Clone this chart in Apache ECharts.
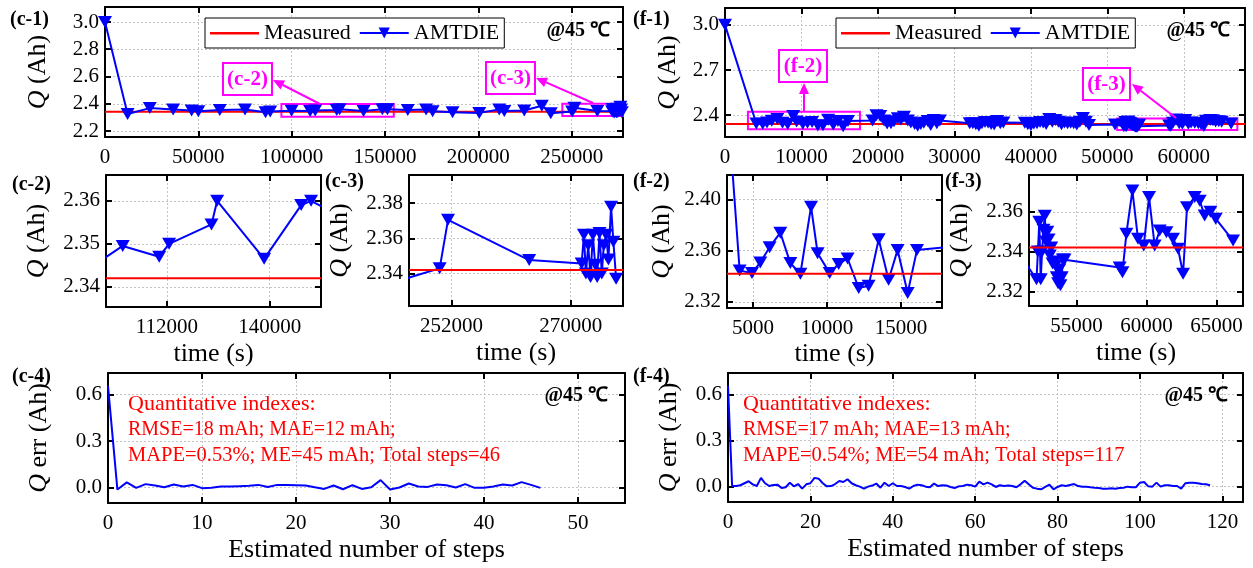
<!DOCTYPE html>
<html>
<head>
<meta charset="utf-8">
<title>AMTDIE capacity estimation @45 ℃</title>
<script src="https://cdn.jsdelivr.net/npm/echarts@6.0.0/dist/echarts.min.js"></script>
<style>
  html, body { margin: 0; padding: 0; background: #fff; }
  #main { width: 1253px; height: 568px; }
</style>
</head>
<body>
<div id="main"></div>
<script>
// measured capacity (Ah)
const measured = 2.342;

// cell (c): time (s) and estimated capacity (Ah), steps 0..46
const cTime = [0, 12100, 24000, 36500, 46400, 50000, 61500, 75000, 86000, 88500,
  99960, 109900, 112600, 124150, 125700, 138500, 148600, 151300, 162200, 172000,
  175500, 186200, 200500, 211200, 213900, 224600, 234000, 238800, 250230, 251490,
  263740, 271660, 272000, 272300, 272650, 273000, 273350, 273700, 274000, 274350,
  274700, 275000, 275350, 275700, 276100, 276450, 276860];
const cQ = [3.0, 2.325, 2.368, 2.358, 2.35, 2.345, 2.355, 2.357, 2.338, 2.343,
  2.3495, 2.347, 2.350, 2.3545, 2.360, 2.3465, 2.359, 2.360, 2.355, 2.357,
  2.345, 2.338, 2.333, 2.357, 2.346, 2.350, 2.385, 2.330, 2.3429, 2.3705,
  2.3476, 2.3457, 2.362, 2.340, 2.356, 2.338, 2.362, 2.345, 2.338, 2.363,
  2.340, 2.356, 2.362, 2.348, 2.378, 2.358, 2.337];
// cell (c): capacity error (Ah) per estimation step
const cErr = [0.657, -0.013, 0.033, -0.002, 0.022, 0.013, 0.002, 0.02, 0.007, 0.017,
  -0.004, -0.002, 0.007, 0.007, 0.009, 0.011, 0.017, 0.004, 0.017, 0.017,
  0.015, 0.013, 0.002, -0.009, 0.013, -0.011, 0.015, -0.009, 0.002, 0.048,
  -0.013, 0, 0.026, 0.007, 0.004, 0.02, 0.015, 0, 0.022, -0.002,
  -0.002, 0.007, 0.02, 0.013, 0.035, 0.017, -0.002];

// cell (f): time (s) and estimated capacity (Ah), steps 0..117
const fTime = [0, 4095, 4930, 5490, 6120, 6845, 7520, 8200, 8920, 9365,
  10180, 10785, 11390, 12140, 12810, 13490, 14160, 14770, 15450, 16080,
  19300, 19800, 20300, 20800, 21200, 21700, 22100, 22600, 23000, 23400,
  23900, 24300, 24800, 25200, 25600, 26000, 26500, 26900, 27300, 27700,
  28100, 32000, 32400, 32800, 33200, 33600, 34000, 34400, 34800, 35200,
  35600, 36000, 36400, 39200, 39600, 40000, 40400, 40800, 41200, 41600,
  42000, 42400, 42800, 43200, 43600, 44000, 44400, 44800, 45200, 45600,
  46000, 46400, 46800, 47200, 47600, 51000, 52150, 52250, 52350, 52450,
  52550, 52650, 52740, 52830, 52920, 53010, 53100, 53200, 53300, 53400,
  53500, 53600, 53690, 53780, 53860, 53950, 54030, 54150, 58090, 58290,
  58570, 59000, 59400, 59810, 60190, 60590, 60950, 61430, 61900, 62260,
  62620, 62900, 63450, 63810, 64160, 64570, 64950, 66190];
const fQ = [3.0, 2.3445, 2.3425, 2.3508, 2.3627, 2.374, 2.3503, 2.342, 2.3943, 2.358,
  2.3425, 2.3497, 2.3539, 2.3309, 2.3327, 2.3689, 2.3373, 2.3606, 2.327, 2.3606,
  2.364, 2.399, 2.394, 2.364, 2.344, 2.346, 2.359, 2.379, 2.372, 2.390,
  2.364, 2.351, 2.342, 2.329, 2.342, 2.349, 2.362, 2.335, 2.368, 2.346,
  2.364, 2.346, 2.346, 2.340, 2.329, 2.346, 2.355, 2.351, 2.342, 2.338,
  2.362, 2.346, 2.351, 2.349, 2.340, 2.333, 2.344, 2.346, 2.355, 2.351,
  2.342, 2.375, 2.357, 2.368, 2.357, 2.340, 2.351, 2.346, 2.349, 2.346,
  2.338, 2.357, 2.381, 2.357, 2.335, 2.338, 2.326, 2.340, 2.355, 2.326,
  2.340, 2.351, 2.358, 2.345, 2.350, 2.346, 2.338, 2.342, 2.334, 2.335,
  2.333, 2.327, 2.324, 2.331, 2.323, 2.327, 2.336, 2.336, 2.332, 2.3296,
  2.349, 2.3707, 2.3464, 2.343, 2.3674, 2.343, 2.3506, 2.3497, 2.3464, 2.3414,
  2.3288, 2.3623, 2.3674, 2.3655, 2.3581, 2.360, 2.3565, 2.3455];
// cell (f): capacity error (Ah) per estimation step
const fErr = [0.657, 0.004, 0.004, 0.009, 0.022, 0.035, 0.015, 0.004, 0.057, 0.022,
  0.004, 0.011, 0.013, -0.009, -0.004, 0.026, 0.002, 0.017, -0.013, 0.015,
  0.022, 0.057, 0.052, 0.022, 0.002, 0.004, 0.017, 0.037, 0.030, 0.048,
  0.022, 0.009, 0, -0.013, 0, 0.007, 0.02, -0.007, 0.026, 0.004,
  0.022, 0.004, 0.004, -0.002, -0.013, 0.004, 0.013, 0.009, 0, -0.004,
  0.02, 0.004, 0.009, 0.007, -0.002, -0.009, 0.002, 0.004, 0.013, 0.009,
  0, 0.033, 0.015, 0.026, 0.015, -0.002, 0.009, 0.004, 0.007, 0.004,
  -0.004, 0.015, 0.039, 0.015, -0.007, -0.013, -0.017, -0.002, 0.013, -0.017,
  -0.002, 0.009, 0.004, 0.011, 0.017, 0.004, 0, 0, -0.004, -0.007,
  -0.009, -0.013, -0.013, -0.011, -0.013, -0.009, -0.007, 0, -0.004, -0.004,
  0.026, 0.030, 0.002, 0, 0.026, 0, 0.009, 0.009, 0.004, 0.004,
  -0.013, 0.022, 0.026, 0.026, 0.022, 0.017, 0.015, 0.009];

// axis windows
const c1X = [0, 277500], c1Y = [2.156, 3.11];
const f1X = [0, 68000], f1Y = [2.255, 3.112];
const c2X = [95400, 154000], c2Y = [2.3353, 2.366];
const c3X = [245600, 277900], c3Y = [2.3215, 2.396];
const f2X = [3240, 17770], f2Y = [2.3153, 2.419];
const f3X = [51614, 66900], f3Y = [2.3126, 2.3785];
const c4X = [0, 55], f4X = [0, 125], errY = [-0.1, 0.74];

// tick values
const c1XTicks = [0, 50000, 100000, 150000, 200000, 250000];
const c1YTicks = [2.2, 2.4, 2.6, 2.8, 3.0];
const f1XTicks = [0, 10000, 20000, 30000, 40000, 50000, 60000];
const f1YTicks = [2.4, 2.7, 3.0];
const c2XTicks = [112000, 140000], c2YTicks = [2.34, 2.35, 2.36];
const c3XTicks = [252000, 270000], c3YTicks = [2.34, 2.36, 2.38];
const f2XTicks = [5000, 10000, 15000], f2YTicks = [2.32, 2.36, 2.40];
const f3XTicks = [55000, 60000, 65000], f3YTicks = [2.32, 2.34, 2.36];
const c4XTicks = [0, 10, 20, 30, 40, 50];
const f4XTicks = [0, 20, 40, 60, 80, 100, 120];
const errYTicks = [0.0, 0.3, 0.6];

// zoom boxes drawn on the overview panels
const c2Box = [[94500, 2.305], [154700, 2.399]];
const c3Box = [[245000, 2.31], [277500, 2.40]];
const f2Box = [[3000, 2.306], [17650, 2.422]];
const f3Box = [[51280, 2.301], [67000, 2.378]];

const FONT = '"Liberation Serif", "Times New Roman", serif';
const MAG = '#ff00ff';
const grids = [], xAxes = [], yAxes = [], series = [];

function addPanel(box, xr, yr, xt, yt, xDec, yDec, xName, yName, xGap, yGap) {
  const gi = grids.length;
  grids.push({ left: box[0], top: box[1], width: box[2], height: box[3],
    show: false, containLabel: false, outerBoundsMode: 'none' });
  const line = { show: true, onZero: false, lineStyle: { color: '#000', width: 2 } };
  const tick = t => ({ show: true, inside: true, length: 6, customValues: t,
    lineStyle: { color: '#000', width: 2 } });
  const split = { show: true, lineStyle: { color: '#c4c4c4', width: 1, type: [2, 2] } };
  const nameStyle = { fontFamily: FONT, fontSize: 26, color: '#000',
    rich: { i: { fontFamily: FONT, fontSize: 26, fontStyle: 'italic', color: '#000' } } };
  xAxes.push({ gridIndex: gi, type: 'value', position: 'bottom', min: xr[0], max: xr[1],
    axisLine: line, axisTick: tick(xt), splitLine: split,
    axisLabel: { customValues: xt, margin: 10, color: '#000', fontFamily: FONT, fontSize: 21,
      formatter: v => v.toFixed(xDec) },
    name: xName, nameLocation: 'middle', nameGap: xGap, nameTextStyle: nameStyle });
  xAxes.push({ gridIndex: gi, type: 'value', position: 'top', min: xr[0], max: xr[1],
    axisLine: line, axisTick: tick(xt), splitLine: { show: false }, axisLabel: { show: false } });
  yAxes.push({ gridIndex: gi, type: 'value', position: 'left', min: yr[0], max: yr[1],
    axisLine: line, axisTick: tick(yt), splitLine: split,
    axisLabel: { customValues: yt, margin: 6, color: '#000', fontFamily: FONT, fontSize: 21,
      formatter: v => v.toFixed(yDec) },
    name: yName, nameLocation: 'middle', nameGap: yGap, nameTextStyle: nameStyle });
  yAxes.push({ gridIndex: gi, type: 'value', position: 'right', min: yr[0], max: yr[1],
    axisLine: line, axisTick: tick(yt), splitLine: { show: false }, axisLabel: { show: false } });
  return 2 * gi;
}

const qName = '{i|Q} (Ah)';
const pc1 = addPanel([105, 7, 518, 130], c1X, c1Y, c1XTicks, c1YTicks, 0, 1, '', qName, 0, 54);
const pf1 = addPanel([725, 8, 520, 129], f1X, f1Y, f1XTicks, f1YTicks, 0, 1, '', qName, 0, 44);
const pc2 = addPanel([106, 175, 215, 132], c2X, c2Y, c2XTicks, c2YTicks, 0, 2, 'time (s)', qName, 34, 56);
const pc3 = addPanel([409, 175, 214, 131], c3X, c3Y, c3XTicks, c3YTicks, 0, 2, 'time (s)', qName, 34, 56);
const pf2 = addPanel([727, 175, 215, 133], f2X, f2Y, f2XTicks, f2YTicks, 0, 2, 'time (s)', qName, 33, 52);
const pf3 = addPanel([1029, 175, 214, 131], f3X, f3Y, f3XTicks, f3YTicks, 0, 2, 'time (s)', qName, 34, 56);
const pc4 = addPanel([108, 373, 517, 130], c4X, errY, c4XTicks, errYTicks, 0, 1,
  'Estimated number of steps', '{i|Q} err (Ah)', 34, 56);
const pf4 = addPanel([728, 373, 515, 129], f4X, errY, f4XTicks, errYTicks, 0, 1,
  'Estimated number of steps', '{i|Q} err (Ah)', 34, 46);

const pairs = (xs, ys) => xs.map((x, i) => [x, ys[i]]);
const cData = pairs(cTime, cQ), fData = pairs(fTime, fQ);

function estSeries(ax, data) {
  return { name: 'AMTDIE', type: 'line', xAxisIndex: ax, yAxisIndex: ax, data: data,
    symbol: 'triangle', symbolRotate: 180, symbolSize: [14, 12], showSymbol: true,
    lineStyle: { color: '#0000ff', width: 2 }, itemStyle: { color: '#0000ff' },
    clip: true, silent: true, z: 3 };
}
function measSeries(ax, xr, z, boxes) {
  const s = { name: 'Measured', type: 'line', xAxisIndex: ax, yAxisIndex: ax,
    data: [[xr[0], measured], [xr[1], measured]], symbol: 'none',
    lineStyle: { color: '#ff0000', width: 2 }, itemStyle: { color: '#ff0000' },
    silent: true, z: z };
  if (boxes) {
    s.markArea = { silent: true, label: { show: false },
      itemStyle: { color: 'rgba(0,0,0,0)', borderColor: MAG, borderWidth: 2 },
      data: boxes.map(b => [{ coord: b[0] }, { coord: b[1] }]) };
  }
  return s;
}
function errSeries(ax, err) {
  return { name: 'error', type: 'line', xAxisIndex: ax, yAxisIndex: ax,
    data: err.map((v, i) => [i, v]), symbol: 'none',
    lineStyle: { color: '#0000ff', width: 2 }, silent: true };
}

series.push(measSeries(pc1, c1X, 2, [c2Box, c3Box]), estSeries(pc1, cData));
series.push(measSeries(pf1, f1X, 2, [f2Box, f3Box]), estSeries(pf1, fData));
series.push(estSeries(pc2, cData), measSeries(pc2, c2X, 4));
series.push(estSeries(pc3, cData), measSeries(pc3, c3X, 4));
series.push(estSeries(pf2, fData), measSeries(pf2, f2X, 4));
series.push(estSeries(pf3, fData), measSeries(pf3, f3X, 4));
series.push(errSeries(pc4, cErr), errSeries(pf4, fErr));

// plain red bar for the "Measured" legend key (tiny end strokes keep a 49x14 box)
const lineIcon = 'path://M0,0L0.01,0M0,6H49V8.4H0ZM49,14L48.99,14';
function legendAt(left) {
  return { left: left, top: 18, orient: 'horizontal',
    data: [{ name: 'Measured', icon: lineIcon, itemStyle: { color: '#ff0000' } }, 'AMTDIE'],
    itemWidth: 49, itemHeight: 14, itemGap: 8, padding: [4, 5, 4, 5],
    borderColor: '#000', borderWidth: 1, backgroundColor: '#fff', selectedMode: false,
    textStyle: { fontFamily: FONT, fontSize: 22, color: '#000' } };
}

function txt(x, y, text, font, color, align) {
  return { type: 'text', x: x, y: y, z: 20,
    style: { text: text, font: font, fill: color, align: align || 'left', verticalAlign: 'middle' } };
}
function tag(x, y, w, h, text) {
  return [
    { type: 'rect', z: 20, shape: { x: x, y: y, width: w, height: h },
      style: { fill: '#fff', stroke: MAG, lineWidth: 2 } },
    txt(x + w / 2, y + h / 2 + 1, text, 'bold 21px ' + FONT, MAG, 'center')
  ];
}
function arrow(x1, y1, x2, y2) {
  const a = Math.atan2(y2 - y1, x2 - x1), L = 11, W = 5;
  const bx = x2 - L * Math.cos(a), by = y2 - L * Math.sin(a);
  const px = -Math.sin(a) * W, py = Math.cos(a) * W;
  return [
    { type: 'line', z: 20, shape: { x1: x1, y1: y1, x2: bx, y2: by }, style: { stroke: MAG, lineWidth: 2 } },
    { type: 'polygon', z: 20, shape: { points: [[x2, y2], [bx + px, by + py], [bx - px, by - py]] },
      style: { fill: MAG } }
  ];
}

const bold20 = 'bold 20px ' + FONT, red = '#ff0000';
const graphics = [
  txt(10, 20, '(c-1)', bold20, '#000'), txt(633, 20, '(f-1)', bold20, '#000'),
  txt(12, 185, '(c-2)', bold20, '#000'), txt(325, 182, '(c-3)', bold20, '#000'),
  txt(633, 182, '(f-2)', bold20, '#000'), txt(945, 182, '(f-3)', bold20, '#000'),
  txt(12, 377, '(c-4)', bold20, '#000'), txt(633, 377, '(f-4)', bold20, '#000'),
  txt(610, 31, '@45 ℃', bold20, '#000', 'right'), txt(1230, 31, '@45 ℃', bold20, '#000', 'right'),
  txt(608, 396, '@45 ℃', bold20, '#000', 'right'), txt(1228, 396, '@45 ℃', bold20, '#000', 'right'),
  txt(128, 404, 'Quantitative indexes:', '22px ' + FONT, red),
  txt(128, 430, 'RMSE=18 mAh; MAE=12 mAh;', '20px ' + FONT, red),
  txt(128, 456, 'MAPE=0.53%; ME=45 mAh; Total steps=46', '20.5px ' + FONT, red),
  txt(743, 404, 'Quantitative indexes:', '22px ' + FONT, red),
  txt(743, 430, 'RMSE=17 mAh; MAE=13 mAh;', '20px ' + FONT, red),
  txt(743, 456, 'MAPE=0.54%; ME=54 mAh; Total steps=117', '20.5px ' + FONT, red)
].concat(
  arrow(320, 104, 273, 80), tag(223, 63, 49, 32, '(c-2)'),
  arrow(593, 103, 536, 78), tag(486, 62, 49, 32, '(c-3)'),
  arrow(804, 111, 804, 83), tag(779, 50, 48, 32, '(f-2)'),
  arrow(1176, 118, 1132, 84), tag(1083, 68, 47, 32, '(f-3)')
);

const chart = echarts.init(document.getElementById('main'), null, { renderer: 'canvas' });
chart.setOption({
  animation: false,
  backgroundColor: '#fff',
  textStyle: { fontFamily: FONT },
  grid: grids,
  xAxis: xAxes,
  yAxis: yAxes,
  legend: [legendAt(205), legendAt(836)],
  series: series,
  graphic: graphics
});
</script>
</body>
</html>
